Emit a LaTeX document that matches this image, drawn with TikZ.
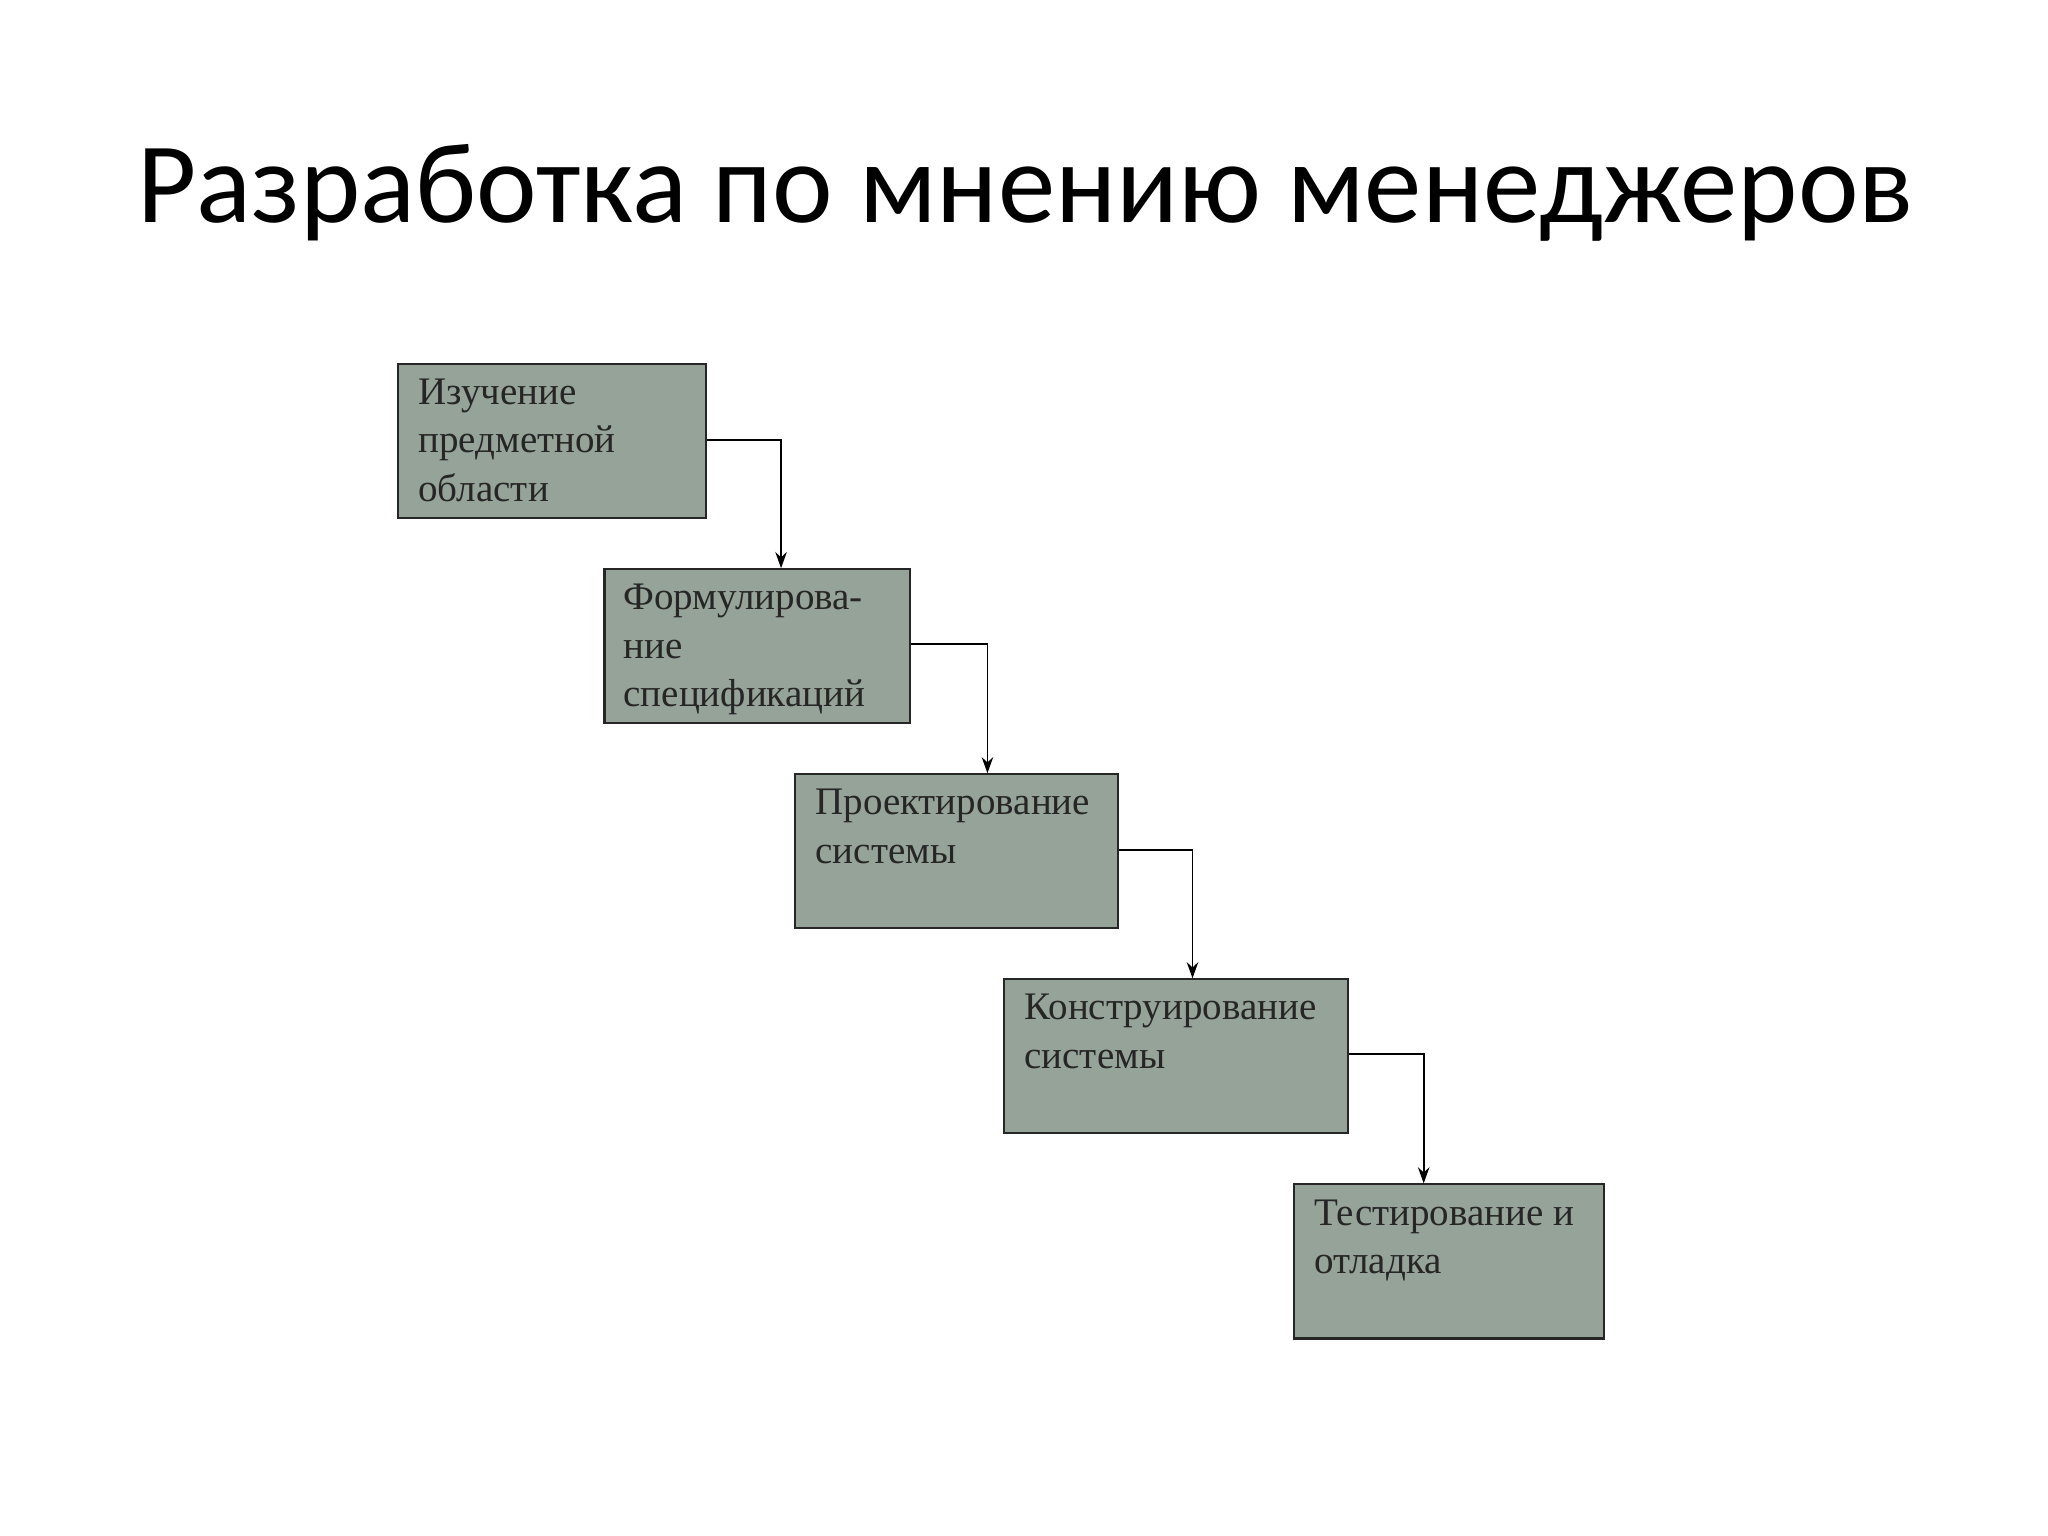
\documentclass[tikz,border=0pt]{standalone}
\usepackage{fontspec}
\setmainfont{Liberation Serif}
\newfontfamily\titlefont{Carlito}
\usetikzlibrary{arrows.meta}
\begin{document}
\begin{tikzpicture}[x=0.02cm,y=-0.02cm,
  stage/.style={draw=black!85,line width=0.9pt,fill=boxfill,minimum width=#1,anchor=north west,inner sep=0pt,minimum height=118*0.02cm},
  lab/.style={anchor=north west,align=left,font=\fontsize{17}{21}\selectfont,text=black!85,inner sep=0pt},
  conn/.style={draw=black,line width=0.8pt,-{Stealth[length=7pt,width=5pt]}}]
\definecolor{boxfill}{HTML}{95A398}
\useasboundingbox (0,0) rectangle (1568,1176);
\node[font=\titlefont\fontsize{50}{60}\selectfont] (title) at (785,148) {Разработка по мнению менеджеров};
\node[stage=236*0.02cm] (b1) at (304,278) {};
\node[stage=234*0.02cm] (b2) at (462,435) {};
\node[stage=247*0.02cm] (b3) at (608,592) {};
\node[stage=263*0.02cm] (b4) at (768,749) {};
\node[stage=237*0.02cm] (b5) at (990,906) {};
\node[lab] (t1) at (320,290) {Изучение\\предметной\\области};
\node[lab] (t2) at (477,447) {Формулирова-\\ние\\спецификаций};
\node[lab] (t3) at (624,604) {Проектирование\\системы};
\node[lab] (t4) at (784,761) {Конструирование\\системы};
\node[lab] (t5) at (1006,918) {Тестирование и\\отладка};
\draw[conn] (b1.east |- 0,337) -| (b2.north -| 598,0);
\draw[conn] (b2.east |- 0,493) -| (b3.north -| 756,0);
\draw[conn] (b3.east |- 0,651) -| (b4.north -| 913,0);
\draw[conn] (b4.east |- 0,807) -| (b5.north -| 1090,0);
\end{tikzpicture}
\end{document}
